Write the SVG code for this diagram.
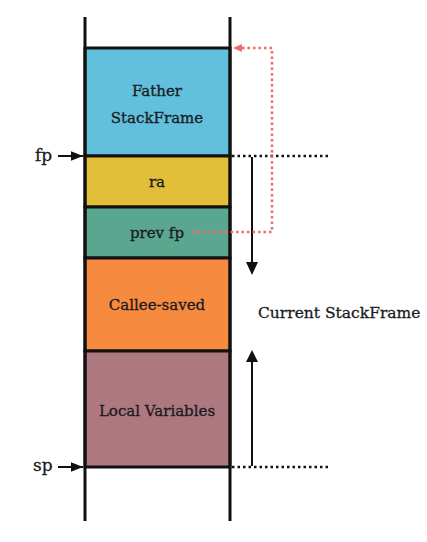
<svg xmlns="http://www.w3.org/2000/svg" width="427" height="542" viewBox="0 0 427 542">
<style>
.box{stroke:#111;stroke-width:3}
.t{font-family:"DejaVu Serif","Liberation Serif",serif;font-size:15px;fill:#1a1a22;stroke:#1a1a22;stroke-width:0.3;text-anchor:middle}
.lbl{font-family:"DejaVu Serif","Liberation Serif",serif;font-size:15.5px;fill:#1a1a22;stroke:#1a1a22;stroke-width:0.3}
.wall{stroke:#111;stroke-width:3;fill:none}
.dot{stroke:#111;stroke-width:2.5;stroke-dasharray:2.5 3;fill:none}
.red{stroke:#f26a6a;stroke-width:2.5;stroke-dasharray:2.5 3;fill:none}
.arr{stroke:#111;stroke-width:2;fill:none}
</style>
<defs>
<marker id="ah" viewBox="0 0 10 10" refX="10" refY="5" markerWidth="6" markerHeight="6" orient="auto"><path d="M0,1 L10,5 L0,9 Z" fill="#111"/></marker>
</defs>
<rect width="427" height="542" fill="#fff"/>
<g id="father"><rect class="box" x="85" y="48" width="145" height="108" fill="#62c0dc"/><text class="t" x="157" y="96">Father</text><text class="t" x="157" y="123">StackFrame</text></g>
<g id="ra"><rect class="box" x="85" y="156" width="145" height="51" fill="#e3be38"/><text class="t" x="157" y="187">ra</text></g>
<g id="prevfp"><rect class="box" x="85" y="207" width="145" height="51" fill="#5ba68e"/><text class="t" x="157" y="238">prev fp</text></g>
<g id="callee"><rect class="box" x="85" y="258" width="145" height="93" fill="#f68a3e"/><text class="t" x="157" y="310">Callee-saved</text></g>
<g id="local"><rect class="box" x="85" y="351" width="145" height="116" fill="#ae7880"/><text class="t" x="157" y="416">Local Variables</text></g>
<g id="walls"><line class="wall" x1="85" y1="17" x2="85" y2="521"/><line class="wall" x1="230" y1="17" x2="230" y2="521"/></g>
<g id="labels"><text class="lbl" x="35" y="161" style="font-size:17px">fp</text><text class="lbl" x="33" y="471" style="font-size:17px">sp</text><text class="lbl" x="258" y="318">Current StackFrame</text></g>
<g id="connectors">
<line class="arr" x1="58" y1="156" x2="83" y2="156" stroke-width="1.3" marker-end="url(#ah)"/>
<line class="arr" x1="58" y1="467" x2="83" y2="467" stroke-width="1.3" marker-end="url(#ah)"/>
<line class="dot" x1="232" y1="156" x2="330" y2="156"/>
<line class="dot" x1="232" y1="467" x2="330" y2="467"/>
<line class="arr" x1="252" y1="157" x2="252" y2="262"/>
<path d="M246,262 L258,262 L252,275 Z" fill="#111"/>
<line class="arr" x1="252" y1="466" x2="252" y2="362"/>
<path d="M246,362 L258,362 L252,350 Z" fill="#111"/>
<path class="red" d="M192,232 L272,232 L272,48 L240,48"/>
<path d="M242,44 L242,52 L233,48 Z" fill="#f26a6a"/>
</g>
</svg>
